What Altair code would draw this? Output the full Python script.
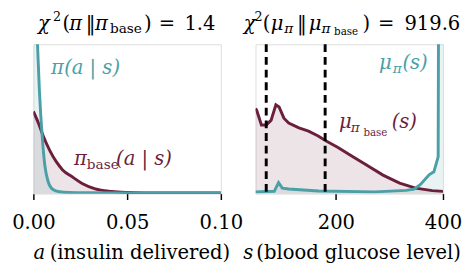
import altair as alt
import pandas as pd

# ---------------- data ----------------
# left panel: action densities over a (insulin delivered)
a_pi = [0.0, 0.001, 0.0022, 0.0032, 0.0048, 0.0061, 0.0078, 0.0104, 0.0139, 0.019, 0.03, 0.05, 0.075, 0.1]
pi_vals = [1.6, 1.35, 1.0, 0.69, 0.366, 0.19, 0.083, 0.028, 0.013, 0.008, 0.006, 0.005, 0.005, 0.005]
a_base = [0.0, 0.0026, 0.0052, 0.0087, 0.0122, 0.0156, 0.0208, 0.026, 0.033, 0.0417, 0.0503, 0.06, 0.07, 0.08, 0.1]
base_vals = [0.55, 0.475, 0.388, 0.29, 0.214, 0.159, 0.112, 0.068, 0.032, 0.015, 0.008, 0.005, 0.004, 0.004, 0.004]

# right panel: state densities over s (blood glucose level)
s_pi = [50, 70, 85, 93, 100, 112, 168, 273, 331, 346, 358, 374, 383, 391, 393, 400]
mu_pi_vals = [0.012, 0.014, 0.015, 0.074, 0.037, 0.031, 0.018, 0.012, 0.022, 0.03, 0.061, 0.126, 0.146, 0.246, 3.0, 3.0]
s_base = [50, 52, 61, 70, 79, 88, 94, 103, 112, 131, 149, 167, 182, 204, 228, 258, 288, 319, 349, 380, 400]
mu_base_vals = [0.57, 0.56, 0.46, 0.46, 0.49, 0.595, 0.58, 0.505, 0.473, 0.44, 0.418, 0.386, 0.353, 0.309,
                0.255, 0.19, 0.124, 0.07, 0.037, 0.02, 0.015]
safe_range = [70, 180]

a_domain = [0.0, 0.1]
a_ticks = [0.0, 0.05, 0.1]
s_domain = [50, 400]
s_ticks = [200, 400]

# ---------------- styling ----------------
TEAL = "#4aa0a6"
MAROON = "#6b1f3d"
FONT = "DejaVu Serif"
W, H = 192, 153
FS, FS_SUB, FS_SUB2, FS_SUP = 20, 14, 10.5, 13
IT, UP = "italic", "normal"

# title / axis-title text pieces: (text, x px, y px, size, style) relative to the panel's plot area
left_title = [
    ("χ", 4.7, -15, FS, IT), ("2", 20.0, -23.5, FS_SUP, UP), ("(", 29.7, -15, FS, UP),
    ("π", 36.7, -15, FS, IT), ("‖", 53.7, -15, FS, UP), ("π", 63.0, -15, FS, IT),
    ("base", 78.4, -11.5, FS_SUB, UP), (")", 113.4, -15, FS, UP), ("=", 128.4, -15, FS, UP),
    ("1.4", 154.7, -15, FS, UP),
    ("a", 0.0, 220, FS, IT), ("(insulin delivered)", 16.7, 220, FS, UP),
]
right_title = [
    ("χ", -12.0, -15, FS, IT), ("2", -1.0, -23.5, FS_SUP, UP), ("(", 7.5, -15, FS, UP),
    ("μ", 15.5, -15, FS, IT), ("π", 29.5, -11.5, FS_SUB, IT), ("‖", 42.5, -15, FS, UP),
    ("μ", 54.5, -15, FS, IT), ("π", 67.5, -11.5, FS_SUB, IT), ("base", 80.5, -9, FS_SUB2, UP),
    (")", 109.5, -15, FS, UP), ("=", 125.5, -15, FS, UP), ("919.6", 152.5, -15, FS, UP),
    ("s", -12.5, 220, FS, IT), ("(blood glucose level)", 0.8, 220, FS, UP),
]

# in-plot curve labels: (text, x data, y data, size, style, colour)
left_labels = [
    ("π", 0.0094, 0.80, FS, IT, TEAL), ("(a | s)", 0.0164, 0.80, FS, IT, TEAL),
    ("π", 0.0217, 0.19, FS, IT, MAROON), ("base", 0.0285, 0.163, FS_SUB, UP, MAROON),
    ("(a | s)", 0.0441, 0.19, FS, IT, MAROON),
]
right_labels = [
    ("μ", 280.6, 0.837, FS, IT, TEAL), ("π", 306.0, 0.81, FS_SUB, IT, TEAL), ("(s)", 324.3, 0.837, FS, IT, TEAL),
    ("μ", 205.9, 0.438, FS, IT, MAROON), ("π", 227.7, 0.412, FS_SUB, IT, MAROON),
    ("base", 251.4, 0.389, FS_SUB2, UP, MAROON), ("(s)", 304.3, 0.438, FS, IT, MAROON),
]


def xaxis(ticks, fmt):
    return alt.Axis(values=ticks, format=fmt, title=None, grid=False, domain=False,
                    ticks=True, tickSize=6, tickWidth=1.5, tickColor="black",
                    labelFont=FONT, labelFontSize=FS, labelColor="black",
                    labelPadding=14, labelFlush=False, labelOverlap=False)


def curves(xs_pi, vs_pi, xs_base, vs_base, domain, axis, interp):
    d_pi = pd.DataFrame({"x": xs_pi, "v": vs_pi})
    d_base = pd.DataFrame({"x": xs_base, "v": vs_base})
    X = alt.X("x:Q", scale=alt.Scale(domain=domain, nice=False, zero=False), axis=axis)
    Y = alt.Y("v:Q", scale=alt.Scale(domain=[0, 1], nice=False, zero=True), axis=None)
    area_b = alt.Chart(d_base).mark_area(color=MAROON, opacity=0.12, clip=True, interpolate=interp).encode(x=X, y=Y)
    area_p = alt.Chart(d_pi).mark_area(color=TEAL, opacity=0.12, clip=True, interpolate=interp).encode(x=X, y=Y)
    line_b = alt.Chart(d_base).mark_line(color=MAROON, strokeWidth=3, clip=True, interpolate=interp).encode(x=X, y=Y)
    line_p = alt.Chart(d_pi).mark_line(color=TEAL, strokeWidth=3, clip=True, interpolate=interp).encode(x=X, y=Y)
    return [area_b, area_p, line_b, line_p]


def data_labels(rows):
    out = []
    for t, x, v, size, style, color in rows:
        out.append(alt.Chart(pd.DataFrame({"t": [t], "x": [x], "v": [v]})).mark_text(
            align="left", baseline="alphabetic", font=FONT, fontSize=size, fontStyle=style, color=color
        ).encode(x="x:Q", y="v:Q", text="t:N"))
    return out


def pix_labels(rows):
    out = []
    for t, px, py, size, style in rows:
        out.append(alt.Chart(alt.Data(values=[{"t": t}])).mark_text(
            align="left", baseline="alphabetic", font=FONT, fontSize=size, fontStyle=style, color="black"
        ).encode(x=alt.value(px), y=alt.value(py), text="t:N"))
    return out


left_layers = curves(a_pi, pi_vals, a_base, base_vals, a_domain, xaxis(a_ticks, ".2f"), "monotone")
left_layers += data_labels(left_labels) + pix_labels(left_title)
left = alt.layer(*left_layers).properties(width=W, height=H)

right_layers = curves(s_pi, mu_pi_vals, s_base, mu_base_vals, s_domain, xaxis(s_ticks, "d"), "linear")
rules = alt.Chart(pd.DataFrame({"x": safe_range})).mark_rule(
    color="black", strokeWidth=3, strokeDash=[8, 5]).encode(x="x:Q")
right_layers += [rules] + data_labels(right_labels) + pix_labels(right_title)
right = alt.layer(*right_layers).properties(width=W, height=H)

chart = alt.hconcat(left, right, spacing=35.5).properties(
    bounds="flush",
    padding={"left": 3, "top": 0, "right": 0, "bottom": 0},
).configure_view(stroke="black", strokeWidth=1.6).configure(font=FONT)

chart.save("out.html", embed_options={"renderer": "svg", "actions": False})
